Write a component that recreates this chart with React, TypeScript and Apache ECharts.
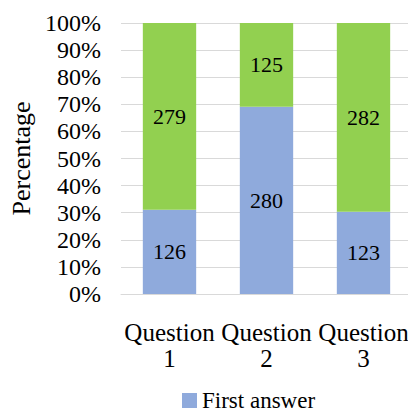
import React, { useEffect, useRef } from "react";
import * as echarts from "echarts";

const categories = ["Question\n1", "Question\n2", "Question\n3"];
const firstAnswer = [126, 280, 123];
const secondAnswer = [279, 125, 282];
const seriesNames = ["First answer", "Second answer"];

export default function App() {
  const ref = useRef<HTMLDivElement>(null);
  useEffect(() => {
    if (!ref.current) return;
    const chart = echarts.init(ref.current, null, { renderer: "svg" });
    const totals = firstAnswer.map((v, i) => v + secondAnswer[i]);
    const pct = (arr: number[]) =>
      arr.map((v, i) => ({ value: (v / totals[i]) * 100, count: v }));
    const font = "'Liberation Serif', 'Times New Roman', serif";
    const labelCfg = {
      show: true,
      position: "inside",
      color: "#000",
      fontFamily: font,
      fontSize: 22,
      formatter: (p: any) => String(p.data.count),
    };
    chart.setOption({
      animation: false,
      textStyle: { fontFamily: font },
      grid: { left: 120, right: 4, top: 23, bottom: 123 },
      legend: {
        data: [seriesNames[0]],
        top: 389,
        padding: [0, 5, 0, 5],
        left: 177,
        itemWidth: 15,
        itemHeight: 15,
        icon: "rect",
        textStyle: { fontFamily: font, fontSize: 23, color: "#000" },
      },
      xAxis: {
        type: "category",
        data: categories,
        axisLine: { show: true, lineStyle: { color: "#d9d9d9" } },
        axisTick: { show: false },
        axisLabel: {
          color: "#000",
          fontFamily: font,
          fontSize: 25,
          lineHeight: 26,
          margin: 25,
          interval: 0,
        },
      },
      yAxis: {
        type: "value",
        min: 0,
        max: 100,
        interval: 10,
        name: "Percentage",
        nameLocation: "middle",
        nameGap: 87,
        nameTextStyle: { color: "#000", fontFamily: font, fontSize: 26 },
        axisLine: { show: false },
        axisTick: { show: false },
        splitLine: { lineStyle: { color: "#d9d9d9" } },
        axisLabel: {
          formatter: "{value}%",
          color: "#000",
          fontFamily: font,
          fontSize: 24,
          margin: 20,
        },
      },
      series: [
        {
          name: seriesNames[0],
          type: "bar",
          stack: "total",
          barWidth: "55%",
          data: pct(firstAnswer),
          itemStyle: { color: "#8faadc" },
          label: labelCfg,
        },
        {
          name: seriesNames[1],
          type: "bar",
          stack: "total",
          barWidth: "55%",
          data: pct(secondAnswer),
          itemStyle: { color: "#92d050" },
          label: labelCfg,
        },
      ],
    });
    return () => chart.dispose();
  }, []);
  return <div ref={ref} style={{ width: 416, height: 417, margin: -8 }} />;
}
